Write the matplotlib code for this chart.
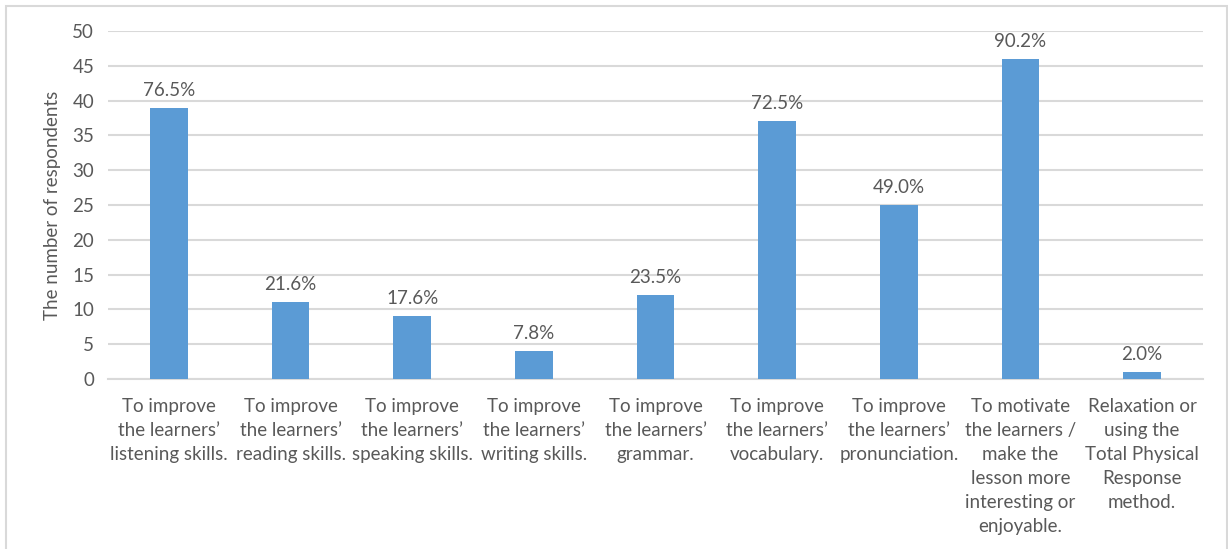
import numpy as np
import matplotlib.pyplot as plt
from matplotlib.patches import Rectangle

plt.rcParams['font.family'] = ['Lato', 'DejaVu Sans']

cats = [
    "To improve\nthe learners’\nlistening skills.",
    "To improve\nthe learners’\nreading skills.",
    "To improve\nthe learners’\nspeaking skills.",
    "To improve\nthe learners’\nwriting skills.",
    "To improve\nthe learners’\ngrammar.",
    "To improve\nthe learners’\nvocabulary.",
    "To improve\nthe learners’\npronunciation.",
    "To motivate\nthe learners /\nmake the\nlesson more\ninteresting or\nenjoyable.",
    "Relaxation or\nusing the\nTotal Physical\nResponse\nmethod.",
]
counts = [39, 11, 9, 4, 12, 37, 25, 46, 1]
pcts = ["76.5%", "21.6%", "17.6%", "7.8%", "23.5%", "72.5%", "49.0%", "90.2%", "2.0%"]

txt = '#595959'
grid = '#d9d9d9'

fig = plt.figure(figsize=(12.28, 5.49), dpi=100)
ax = fig.add_axes([0.088, 0.3097, 0.8916, 0.6338])

x = np.arange(len(cats))
ax.bar(x, counts, width=0.31, color='#5b9bd5', zorder=3)
for xi, v, p in zip(x, counts, pcts):
    ax.text(xi, v + 1.3, p, ha='center', va='bottom', color=txt, fontsize=13.5)

ax.set_xlim(-0.5, len(cats) - 0.5)
ax.set_ylim(0, 50)
ax.set_yticks(range(0, 51, 5))
ax.set_xticks(x)
ax.set_xticklabels(cats, color=txt, fontsize=13.5, linespacing=1.5)
ax.tick_params(axis='both', length=0, colors=txt, labelsize=13.5)
ax.tick_params(axis='x', pad=14)
ax.tick_params(axis='y', pad=10)
ax.yaxis.grid(True, color=grid, linewidth=1.5, zorder=0)
for s in ['top', 'right', 'left']:
    ax.spines[s].set_visible(False)
ax.spines['bottom'].set_color(grid)
ax.spines['bottom'].set_linewidth(1.5)
ax.set_ylabel('The number of respondents', color=txt, fontsize=13.5, labelpad=8)

fig.patches.append(Rectangle((6 / 1228, -0.05), 1221 / 1228, 1 - 6 / 549 + 0.05,
                             transform=fig.transFigure, fill=False,
                             edgecolor='#d9d9d9', linewidth=1.5))

fig.savefig('out.png', dpi=100)
